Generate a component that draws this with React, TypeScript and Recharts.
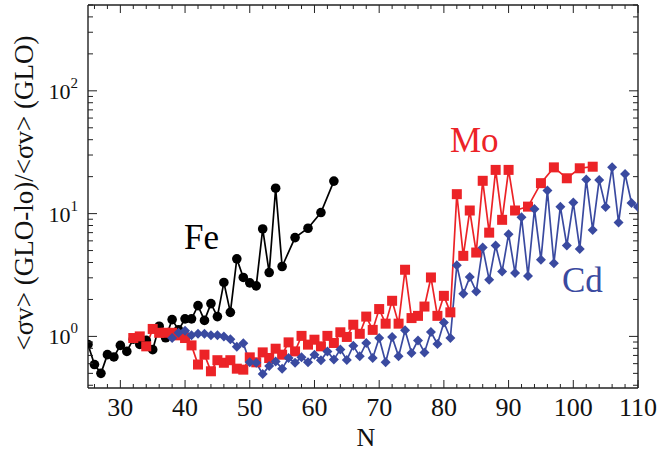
import React from "react";
import { LineChart, Line, XAxis, YAxis } from "recharts";

// Fe (black circles)
const feN = [25, 26, 27, 28, 29, 30, 31, 32, 33, 34, 35, 36, 37, 38, 39, 40, 41, 42, 43, 44, 45, 46, 47, 48, 49, 50, 51, 52, 53, 54, 55, 57, 59, 61, 63];
const feRatio = [0.86, 0.59, 0.5, 0.71, 0.68, 0.845, 0.755, 0.95, 0.86, 0.93, 0.78, 1.21, 0.975, 1.37, 1.13, 1.39, 1.39, 1.78, 1.35, 1.85, 1.45, 2.75, 1.57, 4.28, 3.02, 2.73, 2.58, 7.5, 3.31, 16.1, 3.71, 6.38, 7.6, 10.2, 18.4];

// Mo (red squares)
const moN = [32, 33, 34, 35, 36, 37, 38, 39, 40, 41, 42, 43, 44, 45, 46, 47, 48, 49, 50, 51, 52, 53, 54, 55, 56, 57, 58, 59, 60, 61, 62, 63, 64, 65, 66, 67, 68, 69, 70, 71, 72, 73, 74, 75, 76, 77, 78, 79, 80, 81, 82, 83, 84, 85, 86, 87, 88, 89, 90, 91, 93, 95, 97, 99, 101, 103];
const moRatio = [0.97, 1.0, 0.83, 1.15, 1.07, 1.07, 1.07, 1.02, 0.97, 0.845, 0.59, 0.71, 0.52, 0.64, 0.61, 0.64, 0.546, 0.536, 0.675, 0.615, 0.741, 0.667, 0.794, 0.71, 0.894, 0.755, 1.01, 0.857, 0.94, 0.83, 1.01, 0.884, 1.08, 0.99, 1.245, 1.05, 1.45, 1.13, 1.67, 1.27, 1.95, 1.27, 3.49, 1.41, 1.47, 1.75, 3.02, 1.47, 2.14, 1.57, 14.4, 4.53, 10.6, 4.82, 18.5, 7.0, 22.7, 8.9, 22.7, 10.6, 11.4, 17.7, 23.8, 19.4, 23.4, 24.1];

// Cd (blue diamonds)
const cdN = [38, 39, 40, 41, 42, 43, 44, 45, 46, 47, 48, 49, 50, 51, 52, 53, 54, 55, 56, 57, 58, 59, 60, 61, 62, 63, 64, 65, 66, 67, 68, 69, 70, 71, 72, 73, 74, 75, 76, 77, 78, 79, 80, 81, 82, 83, 84, 85, 86, 87, 88, 89, 90, 91, 92, 93, 94, 95, 96, 97, 98, 99, 100, 101, 102, 103, 104, 105, 106, 107, 108, 109, 110];
const cdRatio = [0.97, 1.07, 1.11, 1.02, 1.05, 1.05, 1.02, 1.02, 1.0, 0.95, 0.825, 0.88, 0.615, 0.61, 0.493, 0.575, 0.626, 0.546, 0.667, 0.61, 0.675, 0.615, 0.71, 0.64, 0.755, 0.647, 0.784, 0.643, 0.84, 0.688, 0.884, 0.667, 0.97, 0.615, 0.99, 0.688, 1.12, 0.733, 0.928, 0.741, 1.086, 0.867, 1.3, 0.97, 3.8, 2.22, 3.04, 2.32, 5.29, 2.89, 5.5, 3.38, 6.8, 3.28, 9.35, 3.11, 10.9, 4.2, 15.4, 3.95, 11.4, 5.5, 12.3, 5.16, 19.0, 7.37, 18.8, 11.3, 23.8, 8.45, 21.0, 12.2, 11.3];

const xTicks = [26, 28, 30, 32, 34, 36, 38, 40, 42, 44, 46, 48, 50, 52, 54, 56, 58, 60, 62, 64, 66, 68, 70, 72, 74, 76, 78, 80, 82, 84, 86, 88, 90, 92, 94, 96, 98, 100, 102, 104, 106, 108, 110];
const yTicks = [0.4, 0.5, 0.6, 0.7, 0.8, 0.9, 1, 2, 3, 4, 5, 6, 7, 8, 9, 10, 20, 30, 40, 50, 60, 70, 80, 90, 100, 200, 300, 400, 500];
const yMajor = [1, 10, 100];
const yExponent = ["0", "1", "2"];

const toRows = (ns: number[], vs: number[]) => ns.map((n, i) => ({ n, v: vs[i] }));
const feData = toRows(feN, feRatio);
const moData = toRows(moN, moRatio);
const cdData = toRows(cdN, cdRatio);

const SERIF = "'Liberation Serif', 'Times New Roman', serif";
const AXIS = "#222";
const RED = "#EC2327";
const BLUE = "#3A4AA0";

function BottomTick({ x, y, payload }: any) {
  const v = payload.value;
  const major = v % 10 === 0;
  return (
    <g>
      <line x1={x} x2={x} y1={y} y2={y - (major ? 8 : 4)} stroke={AXIS} strokeWidth={1} />
      {major && (
        <text x={x} y={y + 28} textAnchor="middle" fontSize={26} fontFamily={SERIF} fill="#111">
          {v}
        </text>
      )}
    </g>
  );
}

function TopTick({ x, y, payload }: any) {
  const major = payload.value % 10 === 0;
  return <line x1={x} x2={x} y1={y} y2={y + (major ? 8 : 4)} stroke={AXIS} strokeWidth={1} />;
}

function LeftTick({ x, y, payload }: any) {
  const idx = yMajor.indexOf(payload.value);
  const major = idx >= 0;
  return (
    <g>
      <line x1={x} x2={x + (major ? 9 : 5)} y1={y} y2={y} stroke={AXIS} strokeWidth={1} />
      {major && (
        <text x={x - 10} y={y + 8} textAnchor="end" fontSize={22} fontFamily={SERIF} fill="#111">
          10
          <tspan dy={-11} fontSize={15}>
            {yExponent[idx]}
          </tspan>
        </text>
      )}
    </g>
  );
}

function RightTick({ x, y, payload }: any) {
  const major = yMajor.indexOf(payload.value) >= 0;
  return <line x1={x} x2={x - (major ? 9 : 5)} y1={y} y2={y} stroke={AXIS} strokeWidth={1} />;
}

function SquareDot({ cx, cy, index }: any) {
  return <rect key={`sq-${index}`} x={cx - 5} y={cy - 5} width={10} height={10} fill={RED} />;
}

function DiamondDot({ cx, cy, index }: any) {
  const r = 5;
  return (
    <polygon
      key={`dm-${index}`}
      points={`${cx},${cy - r} ${cx + r},${cy} ${cx},${cy + r} ${cx - r},${cy}`}
      fill={BLUE}
    />
  );
}

export default function App() {
  return (
    <div style={{ position: "absolute", left: 0, top: 0, width: 658, height: 453, background: "#fff" }}>
      <LineChart width={658} height={453} margin={{ top: 4, right: 19, left: 87, bottom: 64 }}>
        <XAxis
          dataKey="n"
          type="number"
          domain={[25, 110]}
          allowDataOverflow
          ticks={xTicks}
          interval={0}
          height={1}
          tickSize={0}
          tickMargin={0}
          tickLine={false}
          axisLine={{ stroke: AXIS, strokeWidth: 1.4 }}
          tick={<BottomTick />}
        />
        <XAxis
          xAxisId="top"
          orientation="top"
          dataKey="n"
          type="number"
          domain={[25, 110]}
          allowDataOverflow
          ticks={xTicks}
          interval={0}
          height={1}
          tickSize={0}
          tickMargin={0}
          tickLine={false}
          axisLine={{ stroke: AXIS, strokeWidth: 1.4 }}
          tick={<TopTick />}
        />
        <YAxis
          type="number"
          scale="log"
          domain={[0.38, 500]}
          allowDataOverflow
          ticks={yTicks}
          interval={0}
          width={1}
          tickSize={0}
          tickMargin={0}
          tickLine={false}
          axisLine={{ stroke: AXIS, strokeWidth: 1.4 }}
          tick={<LeftTick />}
        />
        <YAxis
          yAxisId="right"
          orientation="right"
          type="number"
          scale="log"
          domain={[0.38, 500]}
          allowDataOverflow
          ticks={yTicks}
          interval={0}
          width={1}
          tickSize={0}
          tickMargin={0}
          tickLine={false}
          axisLine={{ stroke: AXIS, strokeWidth: 1.4 }}
          tick={<RightTick />}
        />
        <Line
          data={feData}
          xAxisId="top"
          yAxisId="right"
          dataKey="v"
          stroke="none"
          dot={false}
          isAnimationActive={false}
        />
        <Line
          data={feData}
          dataKey="v"
          type="linear"
          stroke="#000"
          strokeWidth={1.7}
          dot={{ r: 4.8, fill: "#000", stroke: "#000", strokeWidth: 0 }}
          isAnimationActive={false}
        />
        <Line
          data={moData}
          dataKey="v"
          type="linear"
          stroke={RED}
          strokeWidth={1.7}
          dot={SquareDot}
          isAnimationActive={false}
        />
        <Line
          data={cdData}
          dataKey="v"
          type="linear"
          stroke={BLUE}
          strokeWidth={1.7}
          dot={DiamondDot}
          isAnimationActive={false}
        />
      </LineChart>
      <svg
        width={658}
        height={453}
        style={{ position: "absolute", left: 0, top: 0, pointerEvents: "none" }}
      >
        <text x={184} y={249} fontSize={35} fontFamily={SERIF} fill="#000">
          Fe
        </text>
        <text x={450} y={152} fontSize={35} fontFamily={SERIF} fill={RED}>
          Mo
        </text>
        <text x={562} y={292} fontSize={35} fontFamily={SERIF} fill={BLUE}>
          Cd
        </text>
        <text x={366} y={446} textAnchor="middle" fontSize={26} fontFamily={SERIF} fill="#111">
          N
        </text>
        <text
          transform="translate(33,193) rotate(-90)"
          textAnchor="middle"
          fontSize={27}
          fontFamily={SERIF}
          fill="#111"
        >
          {"<σv> (GLO-lo)/<σv> (GLO)"}
        </text>
      </svg>
    </div>
  );
}
